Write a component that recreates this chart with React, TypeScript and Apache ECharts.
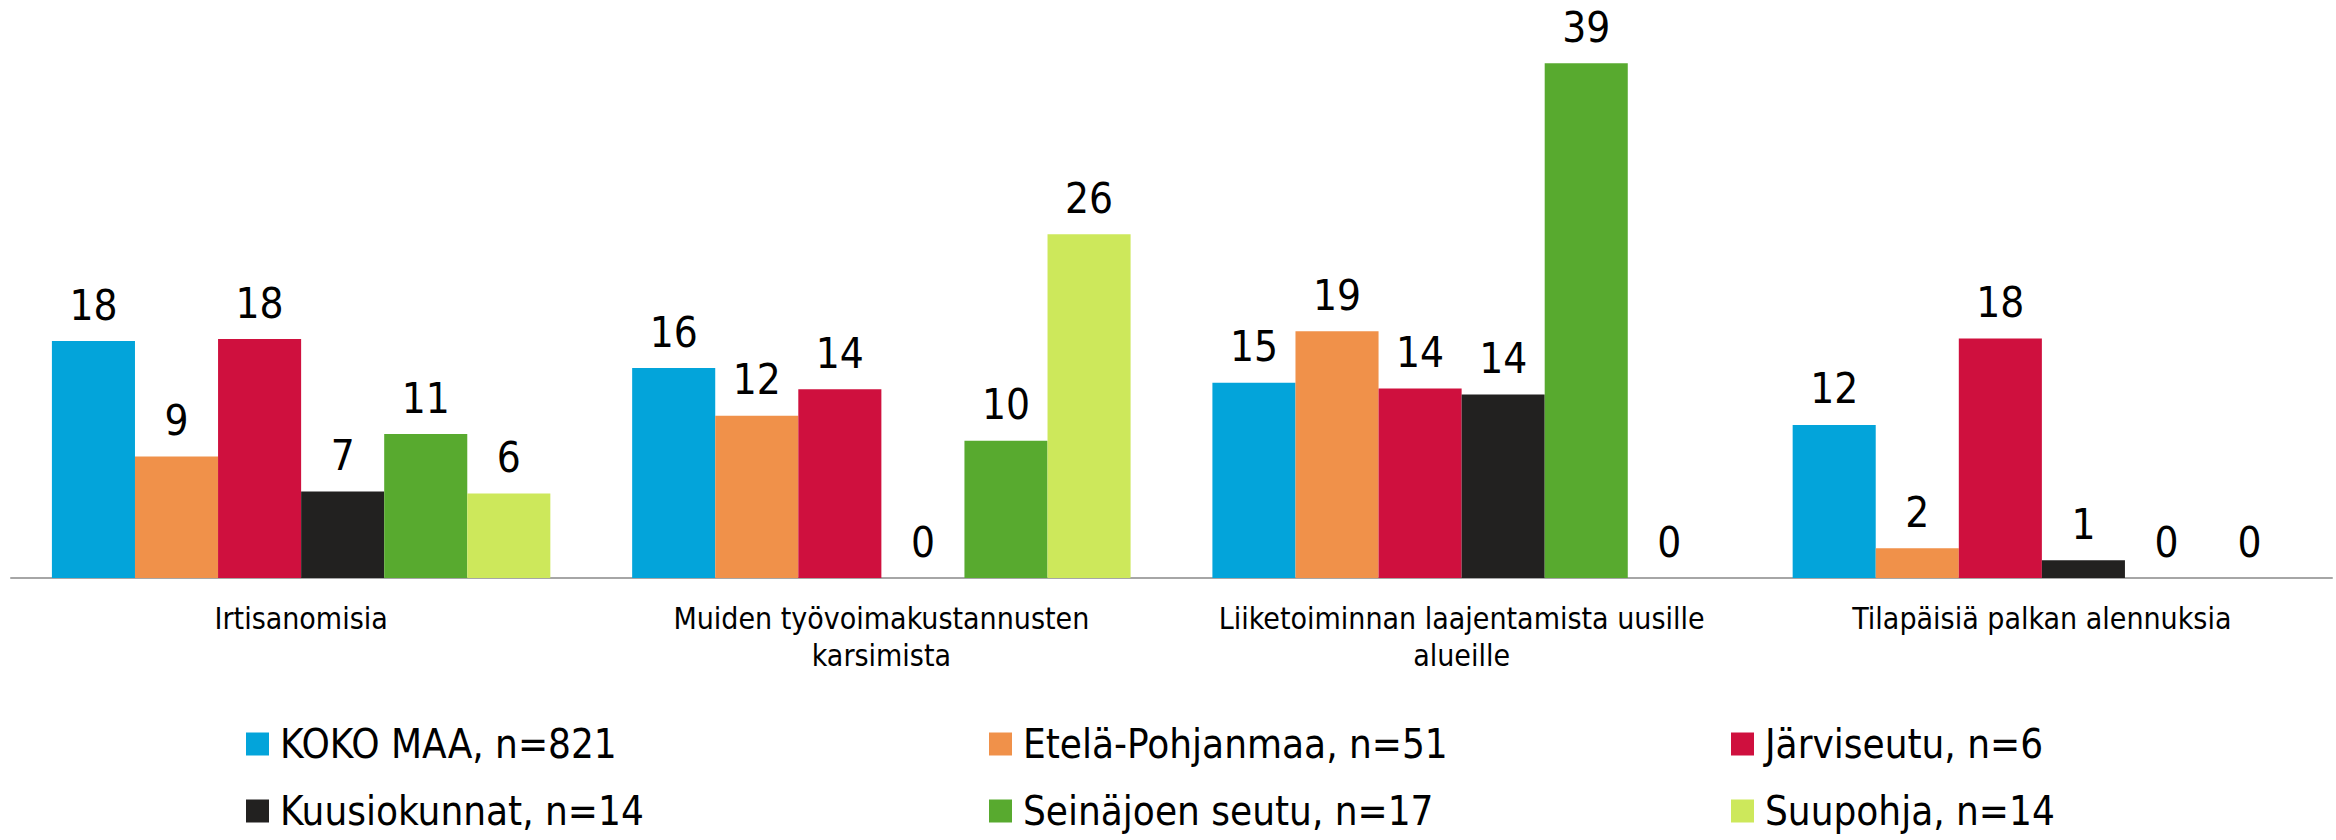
import React, { useEffect, useRef } from "react";
import * as echarts from "echarts";

const categories = [
  "Irtisanomisia",
  "Muiden työvoimakustannusten\nkarsimista",
  "Liiketoiminnan laajentamista uusille\nalueille",
  "Tilapäisiä palkan alennuksia",
];

const seriesNames = [
  "KOKO MAA, n=821",
  "Etelä-Pohjanmaa, n=51",
  "Järviseutu, n=6",
  "Kuusiokunnat, n=14",
  "Seinäjoen seutu, n=17",
  "Suupohja, n=14",
];

const kokoMaa = [17.95, 15.9, 14.8, 11.6];
const etelaPohjanmaa = [9.2, 12.3, 18.7, 2.25];
const jarviseutu = [18.1, 14.3, 14.35, 18.15];
const kuusiokunnat = [6.55, 0, 13.9, 1.35];
const seinajoenSeutu = [10.9, 10.4, 39.0, 0];
const suupohja = [6.4, 26.05, 0, 0];

const seriesValues = [kokoMaa, etelaPohjanmaa, jarviseutu, kuusiokunnat, seinajoenSeutu, suupohja];

const colors = ["#03A4DA", "#F0914A", "#CF103E", "#222120", "#58AA2F", "#CDE85B"];

const FONT = "'DejaVu Sans Condensed', 'Liberation Sans', 'DejaVu Sans', sans-serif";

const legendLefts = [246, 989, 1731];
const legendTops = [724, 791];

export default function App() {
  const ref = useRef<HTMLDivElement>(null);

  useEffect(() => {
    if (!ref.current) return;
    const chart = echarts.init(ref.current, null, { renderer: "svg" });

    const legends = seriesNames.map((name, i) => ({
      data: [name],
      left: legendLefts[i % 3],
      top: legendTops[Math.floor(i / 3)],
      padding: 0,
      icon: "rect",
      itemWidth: 23,
      itemHeight: 23,
      selectedMode: false,
      textStyle: {
        fontFamily: FONT,
        fontSize: 40,
        lineHeight: 40,
        color: "#000",
        padding: [0, 0, 0, 6],
      },
    }));

    chart.setOption({
      animation: false,
      backgroundColor: "#fff",
      color: colors,
      legend: legends,
      grid: {
        left: 11,
        width: 2321,
        top: 50,
        bottom: 262,
        containLabel: false,
      },
      xAxis: {
        type: "category",
        data: categories,
        axisLine: { show: true, lineStyle: { color: "#A6A6A6", width: 2 } },
        axisTick: { show: false },
        axisLabel: {
          fontFamily: FONT,
          fontSize: 30,
          lineHeight: 37,
          color: "#000",
          margin: 22,
          interval: 0,
        },
      },
      yAxis: {
        type: "value",
        min: 0,
        max: 40,
        show: false,
        splitLine: { show: false },
      },
      series: seriesNames.map((name, i) => ({
        name,
        type: "bar",
        data: seriesValues[i],
        barGap: "0%",
        barCategoryGap: "14.1%",
        itemStyle: { color: colors[i] },
        label: {
          show: true,
          position: "top",
          distance: 15,
          fontFamily: FONT,
          fontSize: 42,
          color: "#000",
          formatter: (p: any) => String(Math.round(p.value)),
        },
      })),
    });

    return () => chart.dispose();
  }, []);

  return (
    <div
      ref={ref}
      style={{ position: "fixed", left: 0, top: 0, width: 2336, height: 840, background: "#fff" }}
    />
  );
}
